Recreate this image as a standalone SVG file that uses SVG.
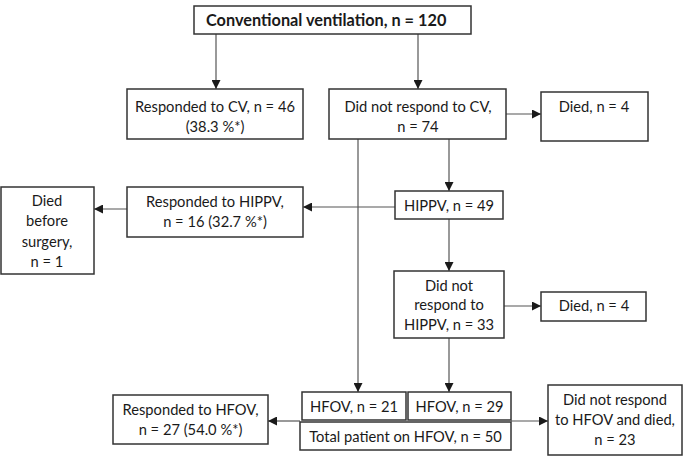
<svg xmlns="http://www.w3.org/2000/svg" width="685" height="456" viewBox="0 0 685 456">
<defs>
<marker id="ah" viewBox="0 0 10 10" refX="10" refY="5" markerWidth="9" markerHeight="9" markerUnits="userSpaceOnUse" orient="auto">
<path d="M0,0 L10,5 L0,10 z" fill="#1a1a1a"/>
</marker>
</defs>
<style>
.b{fill:#fff;stroke:#333;stroke-width:1.5}
.t{font-family:Lato,"Open Sans",sans-serif;font-size:14.7px;fill:#1a1a1a;text-anchor:middle}
.bold{font-weight:bold;text-anchor:start;font-size:16.3px}
.c{stroke:#555;stroke-width:1.2;fill:none;marker-end:url(#ah)}
</style>
<rect width="685" height="456" fill="#fff"/>
<g id="connectors">
<line class="c" x1="216" y1="34" x2="216" y2="89"/>
<line class="c" x1="418" y1="34" x2="418" y2="89"/>
<line class="c" x1="506" y1="114" x2="541" y2="114"/>
<line class="c" x1="358" y1="139" x2="358" y2="392"/>
<line class="c" x1="449" y1="139" x2="449" y2="191"/>
<line class="c" x1="395" y1="207" x2="303" y2="207"/>
<line class="c" x1="127" y1="209" x2="94" y2="209"/>
<line class="c" x1="449" y1="219" x2="449" y2="271"/>
<line class="c" x1="504" y1="306" x2="541" y2="306"/>
<line class="c" x1="449" y1="338" x2="449" y2="392"/>
<line class="c" x1="300" y1="421" x2="268" y2="421"/>
<line class="c" x1="511" y1="421" x2="548" y2="421"/>
</g>
<g id="n-cv">
<rect class="b" x="194" y="6" width="277" height="28"/>
<text class="t bold" x="206" y="26">Conventional ventilation, n = 120</text>
</g>
<g id="n-resp-cv">
<rect class="b" x="127" y="89" width="176" height="50"/>
<text class="t" x="215" y="112">Responded to CV, n = 46</text>
<text class="t" x="215" y="132">(38.3 %*)</text>
</g>
<g id="n-nresp-cv">
<rect class="b" x="329" y="89" width="177" height="50"/>
<text class="t" x="418" y="112">Did not respond to CV,</text>
<text class="t" x="418" y="132">n = 74</text>
</g>
<g id="n-died1">
<rect class="b" x="541" y="92" width="107" height="49"/>
<text class="t" x="594" y="112">Died, n = 4</text>
</g>
<g id="n-hippv">
<rect class="b" x="395" y="191" width="108" height="28"/>
<text class="t" x="449" y="211">HIPPV, n = 49</text>
</g>
<g id="n-resp-hippv">
<rect class="b" x="127" y="187" width="176" height="50"/>
<text class="t" x="215" y="207">Responded to HIPPV,</text>
<text class="t" x="215" y="227">n = 16 (32.7 %*)</text>
</g>
<g id="n-died-before">
<rect class="b" x="1" y="187" width="93" height="87"/>
<text class="t" x="47" y="206">Died</text>
<text class="t" x="47" y="226">before</text>
<text class="t" x="47" y="247">surgery,</text>
<text class="t" x="47" y="267">n = 1</text>
</g>
<g id="n-nresp-hippv">
<rect class="b" x="394" y="271" width="110" height="67"/>
<text class="t" x="449" y="291">Did not</text>
<text class="t" x="449" y="310">respond to</text>
<text class="t" x="449" y="330">HIPPV, n = 33</text>
</g>
<g id="n-died2">
<rect class="b" x="541" y="292" width="105" height="29"/>
<text class="t" x="594" y="311">Died, n = 4</text>
</g>
<g id="n-hfov21">
<rect class="b" x="302" y="392" width="104" height="28"/>
<text class="t" x="354" y="412">HFOV, n = 21</text>
</g>
<g id="n-hfov29">
<rect class="b" x="408" y="392" width="103" height="28"/>
<text class="t" x="459.5" y="412">HFOV, n = 29</text>
</g>
<g id="n-total">
<rect class="b" x="300" y="422" width="211" height="28"/>
<text class="t" x="405.5" y="442">Total patient on HFOV, n = 50</text>
</g>
<g id="n-resp-hfov">
<rect class="b" x="113" y="395" width="155" height="49"/>
<text class="t" x="190.5" y="415">Responded to HFOV,</text>
<text class="t" x="190.5" y="435">n = 27 (54.0 %*)</text>
</g>
<g id="n-nresp-hfov">
<rect class="b" x="548" y="385" width="134" height="70"/>
<text class="t" x="615" y="405">Did not respond</text>
<text class="t" x="615" y="425">to HFOV and died,</text>
<text class="t" x="615" y="445">n = 23</text>
</g>
</svg>
